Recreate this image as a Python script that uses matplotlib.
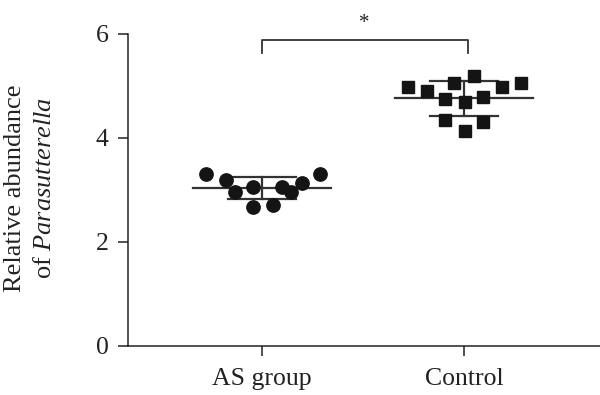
import matplotlib
matplotlib.use("Agg")
import matplotlib.pyplot as plt
import numpy as np

categories = ["AS group", "Control"]
as_values = [3.31, 3.19, 2.96, 3.06, 2.68, 2.71, 3.06, 2.96, 3.14, 3.31]
control_values = [4.975, 4.91, 5.06, 5.19, 4.975, 5.06, 4.75, 4.70, 4.78, 4.35, 4.30, 4.13]
# horizontal swarm offsets of each point (data units)
as_offsets = [-0.277, -0.180, -0.134, -0.043, -0.043, 0.053, 0.098, 0.144, 0.200, 0.287]
control_offsets = [-0.276, -0.185, -0.048, 0.051, 0.187, 0.282, -0.093, 0.005, 0.096, -0.093, 0.096, 0.005]
y_ticks = [0, 2, 4, 6]
sig_label = "*"

plt.rcParams['font.family'] = ['Liberation Serif', 'DejaVu Serif']
plt.rcParams['mathtext.fontset'] = 'custom'
plt.rcParams['mathtext.it'] = 'Liberation Serif:italic'
plt.rcParams['mathtext.rm'] = 'Liberation Serif'

fig = plt.figure(figsize=(6, 3.95), dpi=100)
ax = fig.add_axes([128/600, 49/395, 472/600, 312/395])

groups = [as_values, control_values]
offsets = [as_offsets, control_offsets]
markers = ['o', 's']
for i, (vals, offs, mk) in enumerate(zip(groups, offsets, markers)):
    vals = np.array(vals)
    xs = i + np.array(offs)
    ax.plot(xs, vals, linestyle='none', marker=mk, markersize=9.6 if mk == 'o' else 9.2,
            color='#141414', zorder=3, clip_on=False)
    m = vals.mean()
    sd = vals.std(ddof=1)
    ax.plot([i - 0.34, i + 0.34], [m, m], color='#333333', lw=1.6, zorder=2)
    ax.plot([i - 0.17, i + 0.17], [m + sd, m + sd], color='#333333', lw=1.6, zorder=2)
    ax.plot([i - 0.17, i + 0.17], [m - sd, m - sd], color='#333333', lw=1.6, zorder=2)
    ax.plot([i, i], [m - sd, m + sd], color='#333333', lw=1.6, zorder=2)

# significance bracket
ax.plot([0, 0, 1.02, 1.02], [5.63, 5.885, 5.885, 5.63], color='#333333', lw=1.3, clip_on=False)
ax.text(0.505, 6.2, sig_label, ha='center', va='center', fontsize=15, color='#222222')

ax.set_xlim(-0.663, 1.673)
ax.set_ylim(0, 6)
ax.set_xticks([0, 1])
ax.set_xticklabels(categories, fontsize=18.5)
ax.set_yticks(y_ticks)
ax.set_yticklabels([str(t) for t in y_ticks], fontsize=18.5)
for s in ['top', 'right']:
    ax.spines[s].set_visible(False)
for s in ['left', 'bottom']:
    ax.spines[s].set_linewidth(1.1)
    ax.spines[s].set_color('#222222')
ax.tick_params(axis='both', length=7, width=1.1, color='#222222', labelcolor='#222222')
ax.tick_params(axis='x', pad=9)
ax.tick_params(axis='y', pad=7)
fig.text(30/600, 1 - 188/395, "Relative abundance\nof $\\mathit{Parasutterella}$",
         rotation=90, ha='center', va='center', fontsize=19, color='#222222',
         linespacing=1.5, multialignment='center')

fig.savefig("out.png", dpi=100)
